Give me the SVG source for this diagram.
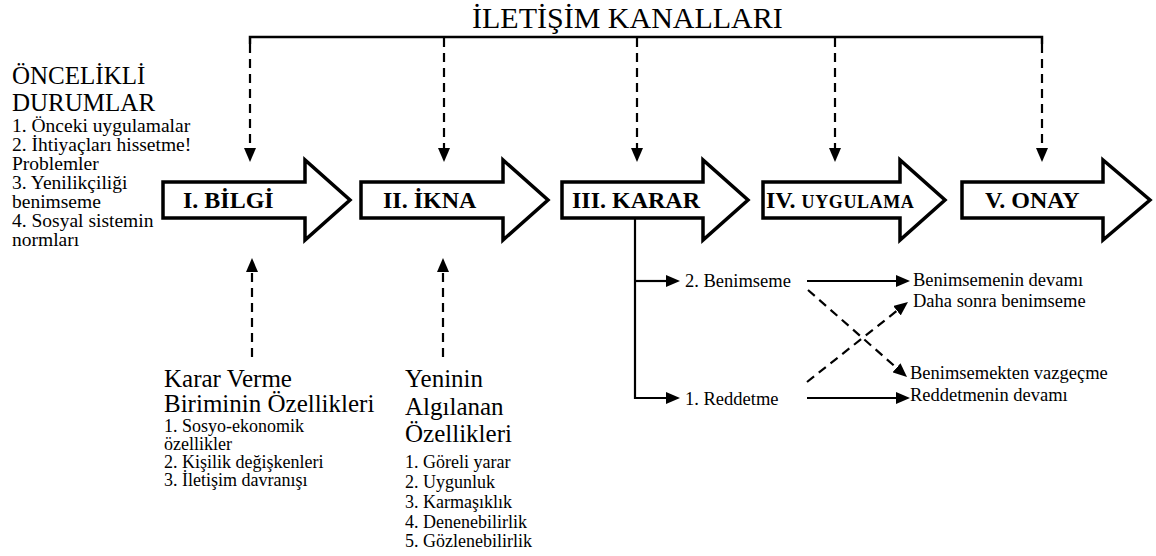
<svg xmlns="http://www.w3.org/2000/svg" width="1156" height="556" viewBox="0 0 1156 556" font-family="'Liberation Serif', 'Times New Roman', Tinos, 'DejaVu Serif', serif">
<style>
  text { font-family: 'Liberation Serif', 'Times New Roman', Tinos, 'DejaVu Serif', serif; fill: #000; }
  .title { font-size: 30px; }
  .head { font-size: 25px; }
  .item { font-size: 19.5px; }
  .sub { font-size: 18px; }
  .dec { font-size: 18.5px; }
  .lbl { font-size: 24px; font-weight: bold; }
  .big { fill: #fff; stroke: #000; stroke-width: 3.5; stroke-linejoin: miter; }
  .solid { fill: none; stroke: #000; stroke-width: 2.2; }
  .dash { fill: none; stroke: #000; stroke-width: 2.2; stroke-dasharray: 9 6; }
</style>
<defs>
  <marker id="ah" viewBox="0 0 14 12" markerWidth="14" markerHeight="12" refX="0" refY="6" orient="auto" markerUnits="userSpaceOnUse">
    <path d="M0,0 L14,6 L0,12 z" fill="#000"/>
  </marker>
</defs>

<g id="title">
  <text class="title" x="472" y="28">İLETİŞİM KANALLARI</text>
</g>

<g id="onceli">
  <text class="head" x="12" y="84">ÖNCELİKLİ</text>
  <text class="head" x="12" y="111">DURUMLAR</text>
  <text class="item" x="12" y="132">1. Önceki uygulamalar</text>
  <text class="item" x="12" y="151">2. İhtiyaçları hissetme!</text>
  <text class="item" x="12" y="170">Problemler</text>
  <text class="item" x="12" y="189">3. Yenilikçiliği</text>
  <text class="item" x="12" y="208">benimseme</text>
  <text class="item" x="12" y="227">4. Sosyal sistemin</text>
  <text class="item" x="12" y="246">normları</text>
</g>

<g id="bilgi">
  <path class="big" d="M163,182 H305 V160 L350,200 L305,240 V218 H163 Z"/>
  <text class="lbl" x="183" y="208">I. BİLGİ</text>
</g>
<g id="ikna">
  <path class="big" d="M361,182 H503 V160 L548,200 L503,240 V218 H361 Z"/>
  <text class="lbl" x="383" y="208">II. İKNA</text>
</g>
<g id="karar">
  <path class="big" d="M562,182 H703 V160 L748,200 L703,240 V218 H562 Z"/>
  <text class="lbl" x="572" y="208">III. KARAR</text>
</g>
<g id="uygulama">
  <path class="big" d="M763,182 H900 V160 L945,200 L900,240 V218 H763 Z"/>
  <text class="lbl" x="766" y="208">IV. <tspan style="font-size:18px;letter-spacing:0.6px">UYGULAMA</tspan></text>
</g>
<g id="onay">
  <path class="big" d="M962,182 H1103 V160 L1150,200 L1103,240 V218 H962 Z"/>
  <text class="lbl" x="985" y="208">V. ONAY</text>
</g>

<g id="karar-verme">
  <text class="head" x="164" y="387">Karar Verme</text>
  <text class="head" x="164" y="412">Biriminin Özellikleri</text>
  <text class="sub" x="164" y="432">1. Sosyo-ekonomik</text>
  <text class="sub" x="164" y="450">özellikler</text>
  <text class="sub" x="164" y="468">2. Kişilik değişkenleri</text>
  <text class="sub" x="164" y="486">3. İletişim davranışı</text>
</g>

<g id="yeninin">
  <text class="head" x="405" y="387">Yeninin</text>
  <text class="head" x="405" y="415">Algılanan</text>
  <text class="head" x="405" y="442">Özellikleri</text>
  <text class="sub" x="405" y="468">1. Göreli yarar</text>
  <text class="sub" x="405" y="488">2. Uygunluk</text>
  <text class="sub" x="405" y="508">3. Karmaşıklık</text>
  <text class="sub" x="405" y="528">4. Denenebilirlik</text>
  <text class="sub" x="405" y="547">5. Gözlenebilirlik</text>
</g>

<g id="benimseme">
  <text class="dec" x="685" y="287">2. Benimseme</text>
</g>
<g id="reddetme">
  <text class="dec" x="685" y="405">1. Reddetme</text>
</g>
<g id="sonuclar">
  <text class="dec" x="913" y="286">Benimsemenin devamı</text>
  <text class="dec" x="913" y="307">Daha sonra benimseme</text>
  <text class="dec" x="910" y="379">Benimsemekten vazgeçme</text>
  <text class="dec" x="910" y="401">Reddetmenin devamı</text>
</g>

<g id="connectors">
  <path d="M250,44 V37 H1042 V44" fill="none" stroke="#000" stroke-width="2.5"/>
  <path class="dash" d="M250,44 V148" marker-end="url(#ah)"/>
  <path class="dash" d="M444,38 V148" marker-end="url(#ah)"/>
  <path class="dash" d="M637,38 V148" marker-end="url(#ah)"/>
  <path class="dash" d="M835,38 V148" marker-end="url(#ah)"/>
  <path class="dash" d="M1042,44 V148" marker-end="url(#ah)"/>

  <path class="dash" d="M252,357 V272" marker-end="url(#ah)"/>
  <path class="dash" d="M443,357 V272" marker-end="url(#ah)"/>

  <path class="solid" d="M635,218 V398 H666" marker-end="url(#ah)"/>
  <path class="solid" d="M635,281 H666" marker-end="url(#ah)"/>
  <path class="solid" d="M807,281 H896" marker-end="url(#ah)"/>
  <path class="solid" d="M807,398 H896" marker-end="url(#ah)"/>

  <path class="dash" d="M808,290 L896.5,367.8" marker-end="url(#ah)"/>
  <path class="dash" d="M807,382 L897,310.7" marker-end="url(#ah)"/>
</g>
</svg>
